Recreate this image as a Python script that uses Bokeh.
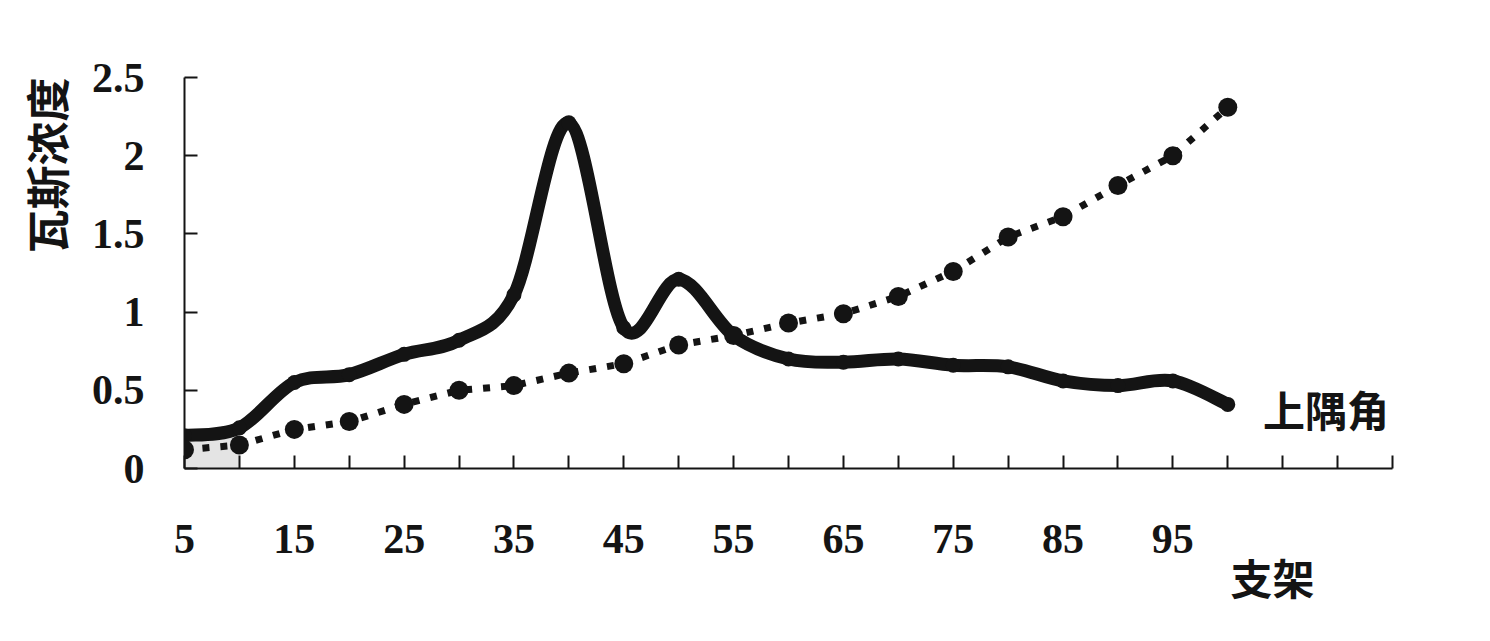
import math
from bokeh.plotting import figure
from bokeh.models import FixedTicker, Title
from bokeh.core.properties import value
from bokeh.embed import file_html
from bokeh.resources import INLINE

# ---- data ----
support = [5, 10, 15, 20, 25, 30, 35, 40, 45, 50, 55, 60, 65, 70, 75, 80, 85, 90, 95, 100]
upper_corner = [0.21, 0.26, 0.55, 0.60, 0.73, 0.82, 1.11, 2.21, 0.90, 1.21,
                0.85, 0.70, 0.68, 0.70, 0.66, 0.65, 0.56, 0.53, 0.56, 0.41]
other_series = [0.12, 0.15, 0.25, 0.30, 0.41, 0.50, 0.53, 0.61, 0.67, 0.79,
                0.85, 0.93, 0.99, 1.10, 1.26, 1.48, 1.61, 1.81, 2.00, 2.31]
x_labels = [5, 15, 25, 35, 45, 55, 65, 75, 85, 95]
x_minor = [10, 20, 30, 40, 50, 60, 70, 80, 90, 100, 105, 110, 115]
y_ticks = [0, 0.5, 1, 1.5, 2, 2.5]
y_tick_labels = ["0", "0.5", "1", "1.5", "2", "2.5"]
y_title = "瓦斯浓度"
x_title = "支架"
series_name = "上隅角"

INK = "#141414"

p = figure(width=1474, height=633, output_backend="svg", toolbar_location=None,
           x_range=(5, 115), y_range=(0, 2.5),
           min_border_left=181, min_border_right=85, min_border_top=77, min_border_bottom=165)
p.frame_width = 1208
p.frame_height = 391
p.outline_line_color = None
p.xgrid.visible = False
p.ygrid.visible = False
p.background_fill_color = "white"
p.border_fill_color = "white"

# light grey fill under the first segment
p.varea(x=support[:2], y1=[0, 0], y2=upper_corner[:2], fill_color="#e4e4e4")

# smooth (Catmull-Rom -> Bezier) solid curve through the data points
def bezier_parts(xs, ys):
    n = len(xs)
    out = dict(x0=[], y0=[], x1=[], y1=[], cx0=[], cy0=[], cx1=[], cy1=[])
    for i in range(n - 1):
        i0 = max(i - 1, 0)
        i3 = min(i + 2, n - 1)
        out["x0"].append(xs[i]); out["y0"].append(ys[i])
        out["x1"].append(xs[i + 1]); out["y1"].append(ys[i + 1])
        out["cx0"].append(xs[i] + (xs[i + 1] - xs[i0]) / 6)
        out["cy0"].append(ys[i] + (ys[i + 1] - ys[i0]) / 6)
        out["cx1"].append(xs[i + 1] - (xs[i3] - xs[i]) / 6)
        out["cy1"].append(ys[i + 1] - (ys[i3] - ys[i]) / 6)
    return out

bz = bezier_parts(support, upper_corner)
p.bezier(x0=bz["x0"], y0=bz["y0"], x1=bz["x1"], y1=bz["y1"],
         cx0=bz["cx0"], cy0=bz["cy0"], cx1=bz["cx1"], cy1=bz["cy1"],
         line_color=INK, line_width=13, line_cap="round")
p.scatter(support, upper_corner, size=15, fill_color=INK, line_color=None)

# dotted series
p.line(support, other_series, line_color=INK, line_width=7, line_dash="7 11")
p.scatter(support, other_series, size=19, fill_color=INK, line_color=None)

# axes
xa = p.xaxis[0]
xa.ticker = FixedTicker(ticks=x_labels, minor_ticks=x_minor)
xa.axis_line_color = INK
xa.axis_line_width = 2
xa.major_tick_in = 13
xa.major_tick_out = 0
xa.minor_tick_in = 13
xa.minor_tick_out = 0
xa.major_tick_line_color = INK
xa.minor_tick_line_color = INK
xa.major_tick_line_width = 2
xa.minor_tick_line_width = 2
xa.major_label_standoff = 56
xa.major_label_text_font = "Liberation Serif"
xa.major_label_text_font_style = "bold"
xa.major_label_text_font_size = "42px"
xa.major_label_text_color = INK

ya = p.yaxis[0]
ya.ticker = FixedTicker(ticks=y_ticks, minor_ticks=[])
ya.major_label_overrides = {t: s for t, s in zip(y_ticks, y_tick_labels)}
ya.axis_line_color = INK
ya.axis_line_width = 2
ya.major_tick_in = 13
ya.major_tick_out = 0
ya.minor_tick_in = 0
ya.minor_tick_out = 0
ya.major_tick_line_color = INK
ya.major_tick_line_width = 2
ya.major_label_standoff = 40
ya.major_label_text_font = "Liberation Serif"
ya.major_label_text_font_style = "bold"
ya.major_label_text_font_size = "42px"
ya.major_label_text_color = INK

# axis titles as side-panel titles
p.add_layout(Title(text=y_title, align="right", offset=0, standoff=22,
                   text_font="Noto Sans CJK SC", text_font_style="bold",
                   text_font_size="44px", text_color=INK), "left")
p.add_layout(Title(text=x_title, align="left", offset=1046, standoff=-23,
                   text_font="Noto Sans CJK SC", text_font_style="bold",
                   text_font_size="42px", text_color=INK), "below")

p.text(x=[103.2], y=[0.385], text=[series_name], text_align="left", text_baseline="middle",
       text_font=value("Noto Sans CJK SC"), text_font_style="bold",
       text_font_size="42px", text_color=INK)

open("out.html", "w").write(file_html(p, INLINE))
